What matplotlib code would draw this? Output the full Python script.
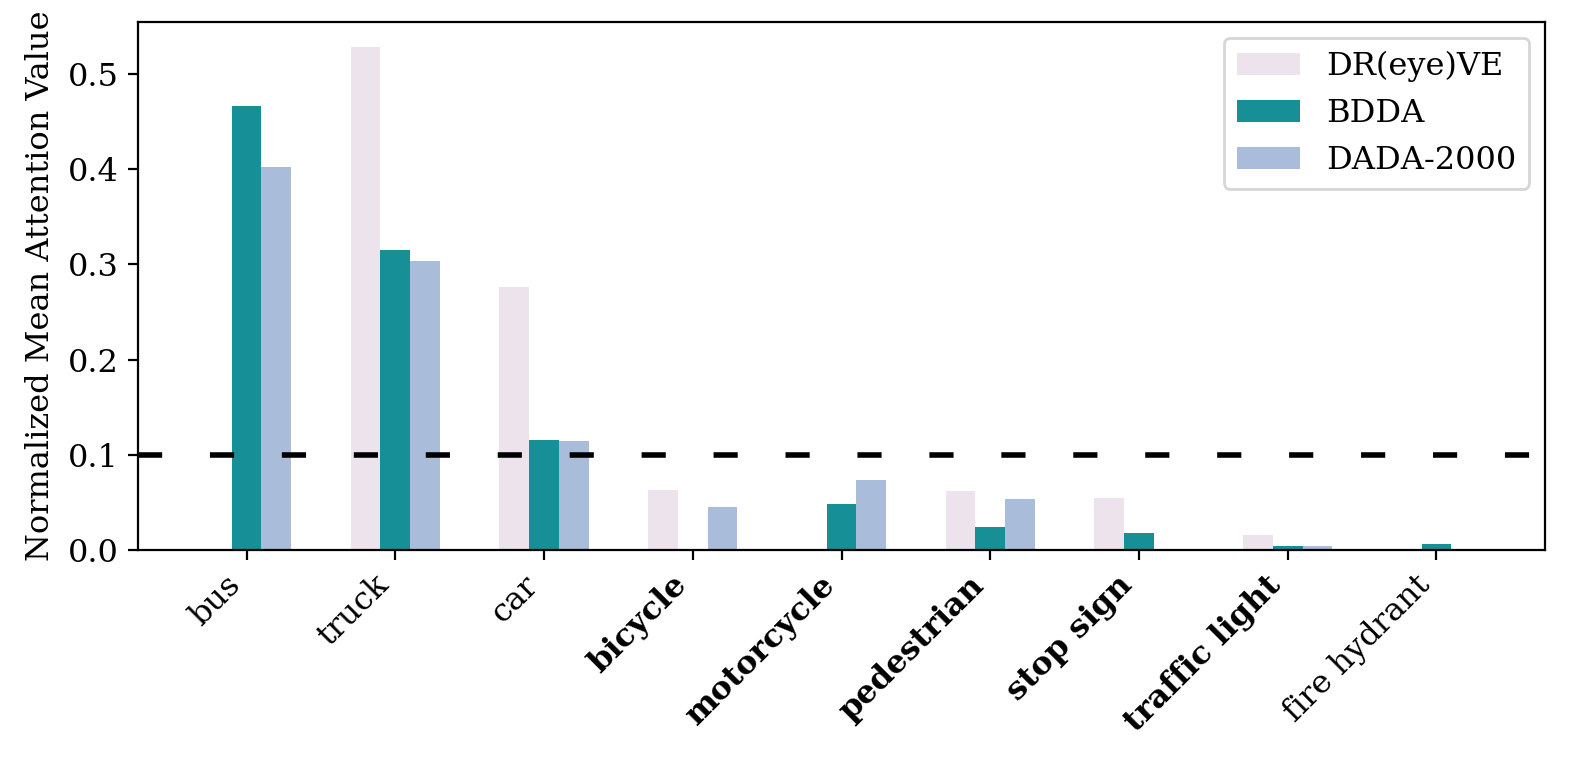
import numpy as np
from matplotlib import pyplot as plt

CATEGORIES = ["bus", "truck", "car", "bicycle", "motorcycle", "pedestrian",
              "stop sign", "traffic light", "fire hydrant"]
BOLD = ["bicycle", "motorcycle", "pedestrian", "stop sign", "traffic light"]
DREYEVE = [0.0, 0.528, 0.276, 0.063, 0.0, 0.0625, 0.0545, 0.0155, 0.0]
BDDA = [0.466, 0.315, 0.116, 0.0, 0.048, 0.0244, 0.0178, 0.0042, 0.006]
DADA = [0.402, 0.304, 0.115, 0.0455, 0.0735, 0.0535, 0.0, 0.0048, 0.0]
THRESHOLD = 0.1

COLORS = {"DR(eye)VE": "#EDE3EC", "BDDA": "#178F96", "DADA-2000": "#A9BCDA"}
WIDTH = 0.2

plt.rcParams.update({"font.family": "DejaVu Serif", "font.size": 11.5})
fig, ax = plt.subplots(figsize=(7.895, 3.82), dpi=200)
fig.subplots_adjust(left=0.0874, right=0.9785, top=0.9712, bottom=0.28)

x = np.arange(len(CATEGORIES))
series = [("DR(eye)VE", DREYEVE, -WIDTH), ("BDDA", BDDA, 0.0), ("DADA-2000", DADA, WIDTH)]
for name, vals, off in series:
    ax.bar(x + off, vals, WIDTH, label=name, color=COLORS[name])

ax.axhline(THRESHOLD, color="black", lw=2, linestyle=(0, (4.35, 8.6)))

ax.set_xticks(x)
ax.set_xticklabels(CATEGORIES, rotation=45, ha="right")
for lbl in ax.get_xticklabels():
    if lbl.get_text() in BOLD:
        lbl.set_fontweight("bold")
ax.set_ylabel("Normalized Mean Attention Value")
ax.set_yticks([0.0, 0.1, 0.2, 0.3, 0.4, 0.5])
ax.legend(loc="upper right")

fig.savefig("out.png", dpi=200)
